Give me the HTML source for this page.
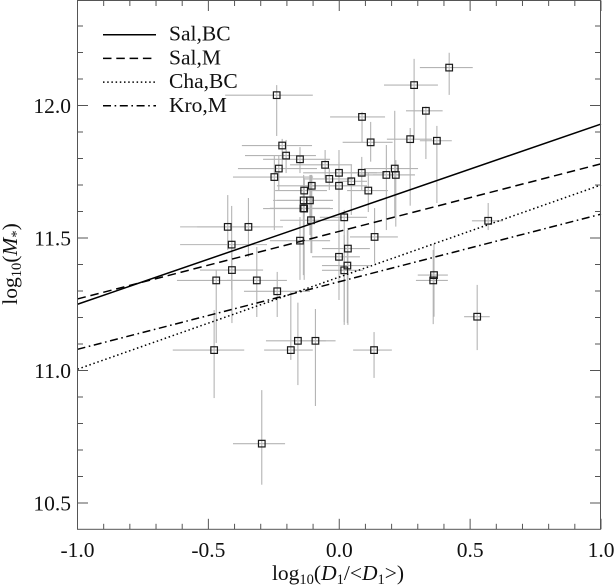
<!DOCTYPE html>
<html lang="en">
<head>
<meta charset="utf-8">
<title>log10(M*) vs log10(D1/&lt;D1&gt;)</title>
<style>
html,body{margin:0;padding:0;background:#fff;}
svg{display:block;font-family:"Liberation Serif",serif;fill:#000;}
text{font-size:21.5px;fill:#111;}
</style>
</head>
<body>
<svg id="chart" xmlns="http://www.w3.org/2000/svg" width="614" height="586" viewBox="0 0 614 586">
<rect x="0" y="0" width="614" height="586" fill="#fff"/>
<g id="errors"></g>
<g id="lines"></g>
<g id="markers"></g>
<g id="axes"></g>
<g id="legend"></g>
<text x="338" y="580" text-anchor="middle">log<tspan font-size="14.5" dy="4">10</tspan><tspan dy="-4">(</tspan><tspan font-style="italic">D</tspan><tspan font-size="14.5" dy="4">1</tspan><tspan dy="-4">/&lt;</tspan><tspan font-style="italic">D</tspan><tspan font-size="14.5" dy="4">1</tspan><tspan dy="-4">&gt;)</tspan></text>
<text transform="translate(17,264) rotate(-90)" text-anchor="middle">log<tspan font-size="14.5" dy="4">10</tspan><tspan dy="-4">(</tspan><tspan font-style="italic">M</tspan><tspan font-size="14.5" dy="4">*</tspan><tspan dy="-4">)</tspan></text>
</svg>
<script>
// Fit lines
const lineX = [-1, 1];
const salBC = [11.25, 11.93];
const salM = [11.27, 11.78];
const chaBC = [11.005, 11.70];
const kroM = [11.08, 11.59];
const legendLabels = ["Sal,BC", "Sal,M", "Cha,BC", "Kro,M"];

// Tick labels
const xTickLabels = ["-1.0", "-0.5", "0.0", "0.5", "1.0"];
const yTickLabels = ["10.5", "11.0", "11.5", "12.0"];

// Point values and error bar bounds
const pointX = [-0.218,-0.203,-0.150,-0.231,-0.248,-0.054,-0.001,-0.038,0.086,0.046,0.180,-0.001,0.111,-0.105,-0.134,-0.136,-0.112,-0.134,-0.137,-0.108,0.019,-0.426,-0.347,-0.411,-0.410,-0.470,-0.315,-0.237,-0.150,0.033,0.135,-0.001,0.031,0.019,-0.478,-0.158,-0.091,-0.185,0.133,-0.296,0.569,0.362,0.359,0.527,0.420,0.286,0.331,0.271,0.373,0.087,0.120,0.212,0.216,-0.239];
const pointY = [11.849,11.811,11.797,11.762,11.730,11.776,11.746,11.723,11.746,11.714,11.738,11.697,11.679,11.697,11.679,11.642,11.642,11.611,11.612,11.567,11.578,11.542,11.542,11.475,11.379,11.340,11.340,11.299,11.490,11.460,11.504,11.429,11.396,11.378,11.077,11.112,11.112,11.077,11.077,10.724,11.565,11.360,11.340,11.203,12.143,12.077,11.980,11.873,11.867,11.957,11.861,11.762,11.738,12.039];
const xLow = [-0.372,-0.360,-0.291,-0.387,-0.406,-0.188,-0.138,-0.138,-0.035,-0.005,0.068,-0.104,0.030,-0.238,-0.245,-0.253,-0.238,-0.291,-0.265,-0.226,-0.074,-0.608,-0.543,-0.608,-0.532,-0.620,-0.429,-0.364,-0.265,-0.066,0.041,-0.104,-0.066,-0.066,-0.636,-0.280,-0.177,-0.287,0.053,-0.406,0.507,0.300,0.293,0.477,0.308,0.171,0.255,0.182,0.308,-0.035,0.013,0.095,0.129,-0.436];
const xHigh = [-0.104,-0.089,-0.035,-0.085,-0.100,0.049,0.144,0.053,0.175,0.106,0.289,0.106,0.186,0.030,-0.047,-0.024,-0.024,-0.024,-0.035,0.003,0.106,-0.303,-0.215,-0.276,-0.291,-0.314,-0.200,-0.112,-0.035,0.117,0.224,0.079,0.117,0.091,-0.363,-0.051,-0.014,-0.101,0.201,-0.207,0.625,0.415,0.415,0.575,0.510,0.377,0.395,0.354,0.430,0.175,0.204,0.301,0.289,-0.101];
const yHigh = [11.874,11.870,11.843,11.813,11.813,11.832,11.787,11.764,11.806,11.776,11.851,11.832,11.745,11.738,11.726,11.738,11.738,11.719,11.700,11.738,11.606,11.662,11.651,11.621,11.492,11.379,11.466,11.372,11.579,11.538,11.613,11.549,11.530,11.511,11.228,11.256,11.232,11.296,11.145,10.926,11.632,11.477,11.455,11.323,12.199,12.176,11.996,11.915,11.923,11.976,11.938,11.980,11.794,12.077];
const yLow = [11.749,11.745,11.745,11.681,11.530,11.726,11.587,11.681,11.681,11.587,11.530,11.455,11.598,11.443,11.579,11.530,11.511,11.342,11.360,11.443,11.183,11.455,11.428,11.304,11.179,11.104,11.202,11.202,11.342,11.172,11.406,11.266,11.179,11.172,10.896,10.945,10.866,11.040,10.972,10.569,11.530,11.203,11.175,11.077,12.040,11.870,11.798,11.622,11.632,11.862,11.788,11.580,11.543,11.885];

const NS = "http://www.w3.org/2000/svg";
const AXIS_LEFT = 77.5, AXIS_RIGHT = 600.5, AXIS_TOP = 0.5, AXIS_BOTTOM = 529.3;
function sx(v){ return 339.25 + 261.75 * v; }
function sy(v){ return 370.5 - 265 * (v - 11); }
function make(tag, attrs, parent){
  const el = document.createElementNS(NS, tag);
  for (const k in attrs) el.setAttribute(k, attrs[k]);
  parent.appendChild(el);
  return el;
}

// Error bars
const errG = document.getElementById("errors");
pointX.forEach(function(v, i){
  const h = make("line", {x1:sx(xLow[i]), x2:sx(xHigh[i]), y1:sy(pointY[i]), y2:sy(pointY[i]), stroke:"#b4b4b4", "stroke-width":1.1}, errG);
  
  
  const w = make("line", {x1:sx(v), x2:sx(v), y1:sy(yHigh[i]), y2:sy(yLow[i]), stroke:"#b4b4b4", "stroke-width":1.1}, errG);
  
  
});

// Fit lines
const lineG = document.getElementById("lines");
const lineSeries = [salBC, salM, chaBC, kroM];
const lineDash = ["none", "8.5 4.8", "1.5 2.7", "8 3.6 1.6 3.6"];
const lineNames = ["line-sal-bc", "line-sal-m", "line-cha-bc", "line-kro-m"];
lineSeries.forEach(function(s, i){
  const l = make("line", {x1:sx(lineX[0]), x2:sx(lineX[1]), y1:sy(s[0]), y2:sy(s[1]), stroke:"#000", "stroke-width":1.5, "stroke-dasharray":lineDash[i]}, lineG);
  
  
});

// Markers
const markG = document.getElementById("markers");
pointX.forEach(function(v, i){
  const r = make("rect", {x:sx(v)-3.3, y:sy(pointY[i])-3.3, width:6.6, height:6.6, fill:"none", stroke:"#1a1a1a", "stroke-width":1.2}, markG);
  
  
});

// Axes
const axG = document.getElementById("axes");
const frame = make("rect", {x:AXIS_LEFT, y:AXIS_TOP, width:AXIS_RIGHT-AXIS_LEFT, height:AXIS_BOTTOM-AXIS_TOP, fill:"none", stroke:"#555", "stroke-width":1}, axG);


for (let k = -10; k <= 10; k++){
  const major = k % 5 === 0;
  const len = major ? 10.5 : 5.5;
  const px = sx(k / 10);
  [[AXIS_BOTTOM, AXIS_BOTTOM - len], [AXIS_TOP, AXIS_TOP + len]].forEach(function(p){
    const t = make("line", {x1:px, x2:px, y1:p[0], y2:p[1], stroke:"#555", "stroke-width":1}, axG);
    
    
  });
}
for (let k = 105; k <= 123; k++){
  const major = k % 5 === 0;
  const len = major ? 10.5 : 5.5;
  const py = sy(k / 10);
  [[AXIS_LEFT, AXIS_LEFT + len], [AXIS_RIGHT, AXIS_RIGHT - len]].forEach(function(p){
    const t = make("line", {x1:p[0], x2:p[1], y1:py, y2:py, stroke:"#555", "stroke-width":1}, axG);
    
    
  });
}
xTickLabels.forEach(function(s){
  const t = make("text", {x:sx(parseFloat(s)), y:557, "text-anchor":"middle"}, axG);
  t.textContent = s;
  
  
});
yTickLabels.forEach(function(s){
  const t = make("text", {x:71, y:sy(parseFloat(s))+7.3, "text-anchor":"end"}, axG);
  t.textContent = s;
  
  
});

// Legend
const legG = document.getElementById("legend");
legendLabels.forEach(function(s, i){
  const y = 34.7 + 23.7 * i;
  const l = make("line", {x1:103, x2:156, y1:y, y2:y, stroke:"#000", "stroke-width":1.5, "stroke-dasharray":lineDash[i]}, legG);
  
  
  const t = make("text", {x:169, y:y+6}, legG);
  t.textContent = s;
  
  
});
</script>
</body>
</html>
